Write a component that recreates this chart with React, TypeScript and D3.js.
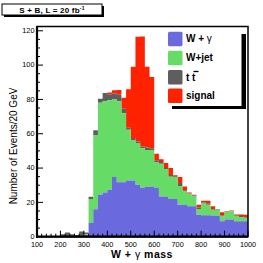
import React, { useEffect, useRef } from 'react';
import * as d3 from 'd3';

// lower edge of each 20 GeV bin, 100 .. 980
const binStart = d3.range(100, 1000, 20);

const wGamma = [0, 0, 0, 0, 0, 0, 0, 0, 0, 0,
  1, 8, 16, 24.5, 25.8, 27.4, 34.8, 31.7, 31.7, 32.8,
  32.8, 30.3, 28.5, 29, 29.3, 28.4, 23.5, 23.5, 22, 22,
  18.6, 18.6, 17.7, 17.7, 12.8, 12.5, 12.5, 12.3, 12, 9,
  10, 10, 9, 9, 9];
const wJet = [0, 0, 0, 0, 0, 0, 0, 0, 0, 0,
  0.5, 14, 43, 53.5, 53.2, 52.1, 45.2, 47.3, 40.3, 29.5,
  23.2, 24.3, 23, 21.5, 21.2, 14.9, 19, 15.9, 13, 12.8,
  10.9, 7.8, 7.3, 5.8, 3.3, 7.1, 6.1, 3.4, 3.7, 2.8,
  4.5, 4.8, 3, 2.5, 2];
const ttbar = [0, 0, 0, 0, 0, 1.5, 2.5, 1.5, 1, 3,
  1, 1.3, 3, 2.4, 4.7, 3.5, 3.5, 4, 2.5, 1.2,
  1.5, 0.9, 1.1, 1.5, 1, 1.2, 1, 0.6, 1, 0.5,
  1.8, 0.6, 0.3, 0.5, 0.9, 0.4, 0.9, 0.5, 0.3, 0.5,
  0.3, 0.2, 0.3, 0.5, 0.5];
const signal = [0, 0, 0, 0, 0, 0, 0, 0, 0, 0,
  0, 0, 0, 0, 0, 1, 1.8, 2.5, 6.5, 22.5,
  41.5, 61, 64, 47, 41.5, 3.8, 1.7, 2.9, 4, 0.5,
  3.5, 2.3, 0.5, 0.5, 1.6, 1, 1.5, 1.5, 0.2, 1.9,
  0.2, 0.2, 0.7, 1, 1.3];

const xTicks = [100, 200, 300, 400, 500, 600, 700, 800, 900, 1000];
const yTicks = [0, 20, 40, 60, 80, 100, 120];
const seriesKeys = ['wGamma', 'wJet', 'ttbar', 'signal'];
const seriesColors = ['#6a6ade', '#66dc66', '#5e5e5e', '#ff2200'];

const FONT = '"Liberation Sans", Arial, sans-serif';

function Chart() {
  const ref = useRef<SVGSVGElement>(null);

  useEffect(() => {
    if (!ref.current) return;
    const svg = d3.select(ref.current);
    svg.selectAll('*').remove();

    const x = d3.scaleLinear().domain([100, 1000]).range([37, 248]);
    const y = d3.scaleLinear().domain([0, 122.5]).range([236.7, 26.5]);

    svg.append('rect').attr('width', 263).attr('height', 263).attr('fill', '#fff');

    // stacked histogram
    const rows = binStart.map((b, i) => ({
      wGamma: wGamma[i], wJet: wJet[i], ttbar: ttbar[i], signal: signal[i]
    }));
    const stacked = d3.stack<any>().keys(seriesKeys)(rows);
    const edges = [...binStart, 1000];

    const area = d3.area<any>()
      .x((d, i) => x(edges[i]))
      .y0(d => y(d[0]))
      .y1(d => y(d[1]))
      .curve(d3.curveStepAfter);

    // draw from top layer down so lower layers sit on top of seams
    svg.append('g')
      .selectAll('path')
      .data(stacked.slice().reverse())
      .enter()
      .append('path')
      .attr('fill', d => seriesColors[seriesKeys.indexOf(d.key)])
      .attr('d', d => area([...d, d[d.length - 1]]));

    // frame
    svg.append('rect')
      .attr('x', x(100)).attr('y', y(122.5))
      .attr('width', x(1000) - x(100)).attr('height', y(0) - y(122.5))
      .attr('fill', 'none').attr('stroke', '#000').attr('stroke-width', 1.5);
    svg.append('line')
      .attr('x1', x(100)).attr('x2', x(100)).attr('y1', y(122.5)).attr('y2', y(0) + 1)
      .attr('stroke', '#000').attr('stroke-width', 2.2);
    svg.append('line')
      .attr('x1', x(100) - 1).attr('x2', x(1000)).attr('y1', y(0)).attr('y2', y(0))
      .attr('stroke', '#000').attr('stroke-width', 2.2);

    // x ticks, pointing into the plot
    const xMinor = d3.range(100, 1001, 20);
    svg.append('g')
      .selectAll('line')
      .data(xMinor)
      .enter()
      .append('line')
      .attr('x1', d => x(d)).attr('x2', d => x(d))
      .attr('y1', y(0))
      .attr('y2', d => y(0) - (d % 100 === 0 ? 6 : 3))
      .attr('stroke', '#000').attr('stroke-width', 1);
    svg.append('g')
      .selectAll('text')
      .data(xTicks)
      .enter()
      .append('text')
      .attr('x', d => x(d)).attr('y', 247.3)
      .attr('text-anchor', 'middle')
      .attr('font-family', FONT).attr('font-size', 7.3)
      .text(d => d);

    // y ticks
    const yMinor = d3.range(0, 121, 5);
    svg.append('g')
      .selectAll('line')
      .data(yMinor)
      .enter()
      .append('line')
      .attr('y1', d => y(d)).attr('y2', d => y(d))
      .attr('x1', x(100))
      .attr('x2', d => x(100) + (d % 20 === 0 ? 6 : 3))
      .attr('stroke', '#000').attr('stroke-width', 1);
    svg.append('g')
      .selectAll('text')
      .data(yTicks)
      .enter()
      .append('text')
      .attr('x', 34.5).attr('y', d => y(d) + 2.2)
      .attr('text-anchor', 'end')
      .attr('font-family', FONT).attr('font-size', 7.3)
      .text(d => d);

    // axis titles
    svg.append('text')
      .attr('transform', 'translate(17,146) rotate(-90)')
      .attr('text-anchor', 'middle')
      .attr('font-family', '"Liberation Sans Narrow", "Liberation Sans", Arial, sans-serif')
      .attr('font-size', 10)
      .text('Number of Events/20 GeV');

    const xt = svg.append('text')
      .attr('x', 142).attr('y', 258)
      .attr('text-anchor', 'middle')
      .attr('font-family', FONT).attr('font-size', 10.5).attr('font-weight', 'bold')
      .attr('letter-spacing', 0.5);
    xt.append('tspan').text('W + ');
    xt.append('tspan').attr('font-weight', 'normal').text('γ');
    xt.append('tspan').text('  mass');

    // title box with shadow
    svg.append('rect').attr('x', 4).attr('y', 6).attr('width', 100).attr('height', 11).attr('fill', '#000');
    svg.append('rect').attr('x', 2).attr('y', 4).attr('width', 100).attr('height', 11)
      .attr('fill', '#fff').attr('stroke', '#000').attr('stroke-width', 1);
    const tt = svg.append('text')
      .attr('x', 52).attr('y', 12.9)
      .attr('text-anchor', 'middle')
      .attr('font-family', FONT).attr('font-size', 8).attr('font-weight', 'bold')
      .attr('letter-spacing', 0.2);
    tt.append('tspan').text('S + B, L = 20 fb');
    tt.append('tspan').attr('font-size', 5).attr('dy', -2.5).text('-1');

    // legend
    const lg = svg.append('g');
    lg.append('rect').attr('x', 172).attr('y', 34).attr('width', 74).attr('height', 75).attr('fill', '#000');
    lg.append('rect').attr('x', 167).attr('y', 30).attr('width', 74.5).attr('height', 76).attr('fill', '#fff');
    const legendY = [31.7, 50.7, 70, 88.5];
    const items = lg.selectAll('g.item')
      .data(seriesKeys)
      .enter()
      .append('g')
      .attr('class', 'item')
      .attr('transform', (d, i) => `translate(168,${legendY[i]})`);
    items.append('rect')
      .attr('width', 14.5).attr('height', 14.5).attr('rx', 1.5)
      .attr('fill', (d, i) => seriesColors[i]);
    const labels = items.append('text')
      .attr('x', 18).attr('y', 10.5)
      .attr('font-family', FONT).attr('font-size', 10).attr('font-weight', 'bold');
    labels.filter((d, i) => i === 0).each(function () {
      const t = d3.select(this);
      t.append('tspan').text('W + ');
      t.append('tspan').attr('font-weight', 'normal').text('γ');
    });
    labels.filter((d, i) => i === 1).text('W+jet');
    labels.filter((d, i) => i === 2).text('t t');
    labels.filter((d, i) => i === 3).text('signal');
    // bar over the anti-top
    lg.append('line')
      .attr('x1', 193.5).attr('x2', 198.5)
      .attr('y1', legendY[2] + 1.5).attr('y2', legendY[2] + 1.5)
      .attr('stroke', '#000').attr('stroke-width', 1.3);
  }, []);

  return <svg ref={ref} width={263} height={263} style={{ display: 'block' }} />;
}

export default function App() {
  return (
    <div style={{ position: 'fixed', left: 0, top: 0 }}>
      <Chart />
    </div>
  );
}
